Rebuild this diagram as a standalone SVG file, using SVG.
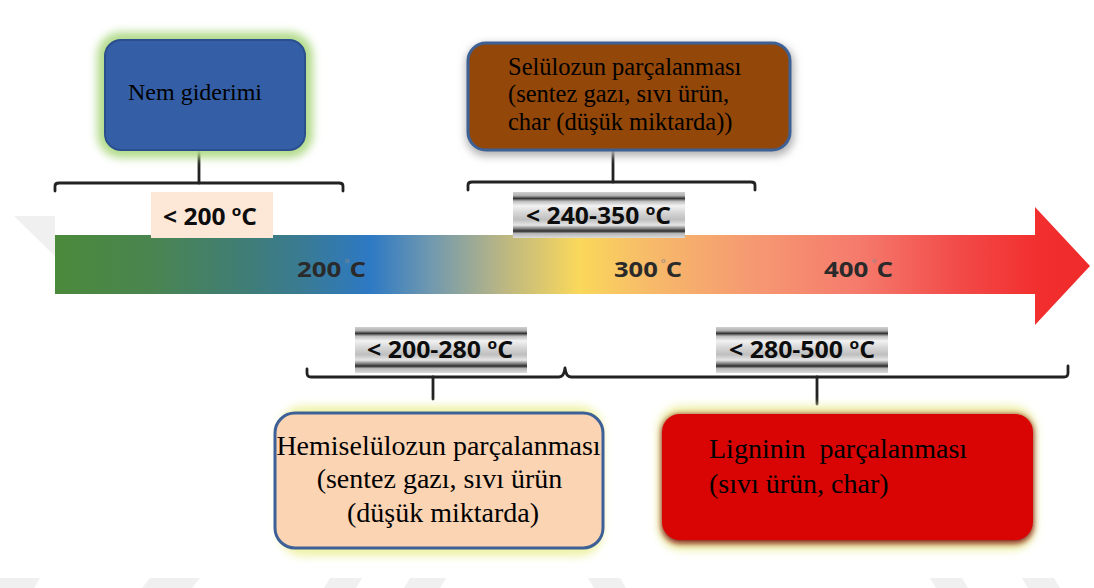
<svg xmlns="http://www.w3.org/2000/svg" width="1094" height="588" viewBox="0 0 1094 588">
  <defs>
    <linearGradient id="barGrad" gradientUnits="userSpaceOnUse" x1="55" y1="0" x2="1090" y2="0">
      <stop offset="0" stop-color="#4b8a3b"/>
      <stop offset="0.092" stop-color="#4a8550"/>
      <stop offset="0.188" stop-color="#3f7d78"/>
      <stop offset="0.237" stop-color="#3a7b92"/>
      <stop offset="0.304" stop-color="#2d79c4"/>
      <stop offset="0.362" stop-color="#6f98b0"/>
      <stop offset="0.430" stop-color="#b8b585"/>
      <stop offset="0.507" stop-color="#fad85a"/>
      <stop offset="0.565" stop-color="#f7be68"/>
      <stop offset="0.671" stop-color="#f59a72"/>
      <stop offset="0.778" stop-color="#f57a6c"/>
      <stop offset="0.874" stop-color="#f24a48"/>
      <stop offset="0.952" stop-color="#f22e2e"/>
      <stop offset="1" stop-color="#ef2a2a"/>
    </linearGradient>
    <linearGradient id="chrome" x1="0" y1="0" x2="0" y2="1">
      <stop offset="0" stop-color="#d0d0d0"/>
      <stop offset="0.08" stop-color="#b0b0b0"/>
      <stop offset="0.14" stop-color="#333333"/>
      <stop offset="0.2" stop-color="#bdbdbd"/>
      <stop offset="0.3" stop-color="#f2f2f2"/>
      <stop offset="0.45" stop-color="#d6d6d6"/>
      <stop offset="0.6" stop-color="#bfbfbf"/>
      <stop offset="0.72" stop-color="#e6e6e6"/>
      <stop offset="0.8" stop-color="#7a7a7a"/>
      <stop offset="0.85" stop-color="#2a2a2a"/>
      <stop offset="0.9" stop-color="#b5b5b5"/>
      <stop offset="1" stop-color="#dcdcdc"/>
    </linearGradient>
    <filter id="blur4" x="-20%" y="-20%" width="140%" height="140%">
      <feGaussianBlur stdDeviation="4"/>
    </filter>
    <filter id="blur3" x="-20%" y="-20%" width="140%" height="140%">
      <feGaussianBlur stdDeviation="3"/>
    </filter>
  </defs>
  <style>
    .box { font-family: "Liberation Serif", "Times New Roman", serif; fill: #000; }
    .lbl { font-family: "Open Sans", "Liberation Sans", sans-serif; font-weight: bold; font-size: 24px; fill: #0d0d0d; }
    .tick { font-family: "Open Sans", "Liberation Sans", sans-serif; font-weight: bold; font-size: 22px; fill: #2a2a2a; }
    .deg { fill: #8a8a8a; font-weight: normal; }
    .brk { fill: none; stroke: #222; stroke-width: 2.8; stroke-linecap: round; stroke-linejoin: round; }
    .wm { fill: #f0f0f0; }
  </style>

  <rect width="1094" height="588" fill="#ffffff"/>

  <!-- faint watermark shapes -->
  <g id="watermark">
    <polygon class="wm" points="14,216 55,216 55,256"/>
    <polygon class="wm" points="0,578 40,578 34,588 0,588"/>
    <polygon class="wm" points="150,578 200,578 192,588 142,588"/>
    <polygon class="wm" points="330,578 362,578 356,588 324,588"/>
    <polygon class="wm" points="410,578 446,578 440,588 404,588"/>
    <polygon class="wm" points="588,578 620,578 626,588 594,588"/>
    <polygon class="wm" points="930,578 962,578 968,588 936,588"/>
    <polygon class="wm" points="1022,578 1054,578 1060,588 1028,588"/>
  </g>

  <!-- timeline arrow -->
  <g id="arrow">
    <path d="M55,235 L1035,235 L1035,207 L1090,266 L1035,325 L1035,294 L55,294 Z" fill="url(#barGrad)"/>
    <text class="tick" x="297" y="277" textLength="69" lengthAdjust="spacingAndGlyphs">200<tspan class="deg" font-size="10" dy="-10"> °</tspan><tspan dy="10">C</tspan></text>
    <text class="tick" x="614" y="277" textLength="68" lengthAdjust="spacingAndGlyphs">300<tspan class="deg" font-size="10" dy="-10"> °</tspan><tspan dy="10">C</tspan></text>
    <text class="tick" x="824" y="277" textLength="69" lengthAdjust="spacingAndGlyphs">400<tspan class="deg" font-size="10" dy="-10"> °</tspan><tspan dy="10">C</tspan></text>
  </g>

  <!-- connectors / brackets -->
  <g id="connectors">
    <path class="brk" d="M55,191 L55,186 Q55,183 59,183 L339,183 Q343,183 343,186 L343,191"/>
    <line class="brk" x1="199" y1="152" x2="199" y2="183"/>
    <path class="brk" d="M468,190 L468,185 Q468,182 472,182 L751,182 Q755,182 755,185 L755,190"/>
    <line class="brk" x1="613" y1="152" x2="613" y2="182"/>
    <path class="brk" d="M307,369 L307,373 Q307,377 311,377 L559,377 Q564,377 565,368 Q566,377 571,377 L1064,377 Q1068,377 1068,373 L1068,366"/>
    <line class="brk" x1="433" y1="377" x2="433" y2="399"/>
    <line class="brk" x1="817" y1="377" x2="817" y2="404"/>
  </g>

  <!-- temperature range labels -->
  <g id="label-200">
    <rect x="151" y="192" width="122" height="46" fill="#fde7d7"/>
    <text class="lbl" x="163" y="225" textLength="94" lengthAdjust="spacingAndGlyphs">&lt; 200 <tspan font-size="15" dy="-9">o</tspan><tspan dy="9">C</tspan></text>
  </g>
  <g id="label-240-350">
    <rect x="513" y="192" width="172" height="46" fill="url(#chrome)"/>
    <text class="lbl" x="526" y="224" textLength="145" lengthAdjust="spacingAndGlyphs">&lt; 240-350 <tspan font-size="15" dy="-9">o</tspan><tspan dy="9">C</tspan></text>
  </g>
  <g id="label-200-280">
    <rect x="355" y="327" width="172" height="46" fill="url(#chrome)"/>
    <text class="lbl" x="367" y="358" textLength="146" lengthAdjust="spacingAndGlyphs">&lt; 200-280 <tspan font-size="15" dy="-9">o</tspan><tspan dy="9">C</tspan></text>
  </g>
  <g id="label-280-500">
    <rect x="716" y="327" width="172" height="46" fill="url(#chrome)"/>
    <text class="lbl" x="729" y="358" textLength="146" lengthAdjust="spacingAndGlyphs">&lt; 280-500 <tspan font-size="15" dy="-9">o</tspan><tspan dy="9">C</tspan></text>
  </g>

  <!-- Nem giderimi -->
  <g id="node-nem">
    <rect x="97" y="32" width="216" height="126" rx="24" fill="#b3db8c" filter="url(#blur4)"/>
    <rect x="105" y="40" width="200" height="110" rx="16" fill="#345fa7" stroke="#2b4f8e" stroke-width="2"/>
    <text class="box" x="128" y="100" font-size="24">Nem giderimi</text>
  </g>

  <!-- Selülozun -->
  <g id="node-seluloz">
    <rect x="466" y="44" width="328" height="112" rx="20" fill="#b0b0b0" filter="url(#blur4)"/>
    <rect x="468" y="43" width="322" height="107" rx="18" fill="#934709" stroke="#3d6095" stroke-width="3"/>
    <text class="box" font-size="24.5">
      <tspan x="508" y="75">Selülozun parçalanması</tspan>
      <tspan x="508" y="102">(sentez gazı, sıvı ürün,</tspan>
      <tspan x="508" y="130">char (düşük miktarda))</tspan>
    </text>
  </g>

  <!-- Hemiselülozun -->
  <g id="node-hemi">
    <rect x="279" y="406" width="324" height="150" rx="24" fill="#eef2a4" filter="url(#blur4)"/>
    <rect x="275" y="413" width="328" height="135" rx="20" fill="#fbd4b4" stroke="#3d6096" stroke-width="3"/>
    <text class="box" font-size="28" text-anchor="middle">
      <tspan x="442" y="455">Hemiselülozun parçalanması</tspan>
      <tspan x="443" y="488">(sentez gazı, sıvı ürün</tspan>
      <tspan x="443" y="522">(düşük miktarda)</tspan>
    </text>
  </g>

  <!-- Ligninin -->
  <g id="node-lignin">
    <rect x="658" y="406" width="378" height="144" rx="24" fill="#eef0a6" filter="url(#blur4)"/>
    <rect x="662" y="415" width="371" height="128" rx="18" fill="#7a0a0a" filter="url(#blur3)"/>
    <rect x="662" y="414" width="371" height="126" rx="18" fill="#d90505"/>
    <text class="box" font-size="28">
      <tspan x="709" y="458" xml:space="preserve">Ligninin  parçalanması</tspan>
      <tspan x="709" y="493">(sıvı ürün, char)</tspan>
    </text>
  </g>
</svg>
